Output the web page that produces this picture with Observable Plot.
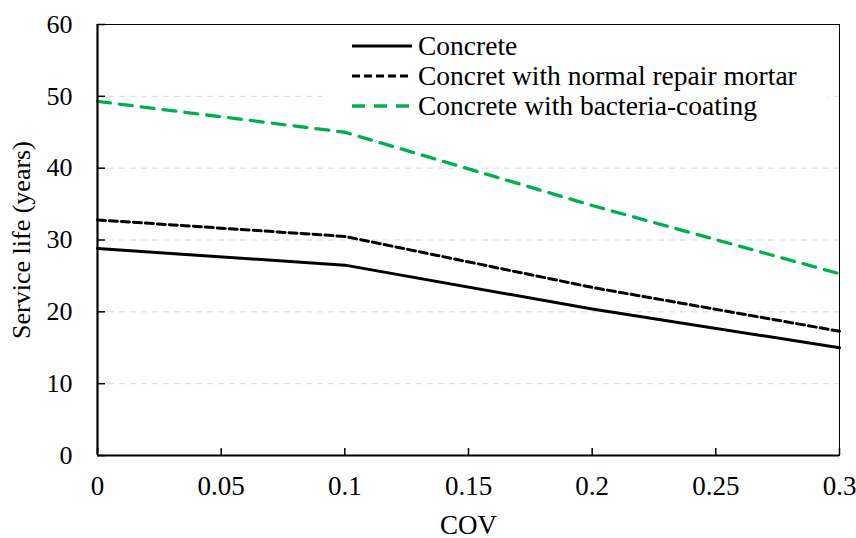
<!DOCTYPE html>
<html>
<head>
<meta charset="utf-8">
<script src="https://cdn.jsdelivr.net/npm/d3@7"></script>
<script src="https://cdn.jsdelivr.net/npm/@observablehq/plot@0.6"></script>
<style>
  body { margin: 0; background: #fff; }
  #wrap { position: relative; width: 856px; height: 538px; font-family: "Liberation Serif", "Times New Roman", serif; }
  #legend { position: absolute; left: 322px; top: 31px; width: 506px; background: #fff; font-size: 27.5px; color: #000; }
  #legend .row { display: flex; align-items: center; height: 30px; }
  #legend svg { margin-left: 30px; margin-right: 6px; }
</style>
</head>
<body>
<div id="wrap"></div>
<script>
const cov = [0, 0.1, 0.2, 0.3];
const concrete = [28.8, 26.5, 20.4, 15.0];
const repair = [32.8, 30.5, 23.4, 17.3];
const bacteria = [49.3, 45.0, 34.8, 25.3];
const xTicks = [0, 0.05, 0.1, 0.15, 0.2, 0.25, 0.3];
const yTicks = [0, 10, 20, 30, 40, 50, 60];
const gridTicks = [10, 20, 30, 40, 50];
const seriesNames = ["Concrete", "Concret with normal repair mortar", "Concrete with bacteria-coating"];

const rows = (vals) => cov.map((c, i) => ({cov: c, v: vals[i]}));
const styles = [
  {stroke: "#000000", dash: null, width: 3},
  {stroke: "#000000", dash: "8,4", width: 3},
  {stroke: "#00b050", dash: "13,9", width: 3.3}
];
const seriesVals = [concrete, repair, bacteria];

const fmtX = d => d === 0 ? "0" : String(d);

const chart = Plot.plot({
  width: 856,
  height: 538,
  marginLeft: 97,
  marginRight: 17,
  marginTop: 24,
  marginBottom: 83,
  style: {fontFamily: "'Liberation Serif', 'Times New Roman', serif", fontSize: "27px", color: "#000", background: "#fff"},
  x: {domain: [0, 0.3]},
  y: {domain: [0, 60]},
  marks: [
    Plot.gridY(gridTicks, {stroke: "#d9d9d9", strokeOpacity: 1, strokeDasharray: "6,5", strokeWidth: 1}),
    Plot.axisX(xTicks, {tickSize: -7, text: null, strokeWidth: 1.5, label: null}),
    Plot.axisX(xTicks, {tickSize: 0, tickPadding: 20, tickFormat: fmtX, fontSize: 27, label: "COV", labelAnchor: "center", labelOffset: 78, labelArrow: "none"}),
    Plot.axisY(yTicks, {tickSize: -8, text: null, strokeWidth: 1.5, label: null}),
    Plot.axisY(yTicks, {tickSize: 0, tickPadding: 25, fontSize: 26, label: "Service life (years)", labelAnchor: "center", labelOffset: 86, labelArrow: "none"}),
    Plot.frame({stroke: "#000", strokeWidth: 1}),
    ...seriesVals.map((vals, i) => Plot.line(rows(vals), {x: "cov", y: "v", stroke: styles[i].stroke, strokeWidth: styles[i].width, strokeDasharray: styles[i].dash})),
    Plot.ruleX([0], {stroke: "#000", strokeWidth: 2.2}),
    Plot.ruleY([0], {stroke: "#000", strokeWidth: 2.2})
  ]
});

const wrap = document.getElementById("wrap");
wrap.appendChild(chart);

const legend = document.createElement("div");
legend.id = "legend";
seriesNames.forEach((name, i) => {
  const row = document.createElement("div");
  row.className = "row";
  const s = styles[i];
  row.innerHTML = `<svg width="60" height="6"><line x1="0" y1="3" x2="60" y2="3" stroke="${s.stroke}" stroke-width="${s.width}" ${s.dash ? `stroke-dasharray="${s.dash}"` : ""}/></svg><span>${name}</span>`;
  legend.appendChild(row);
});
wrap.appendChild(legend);
</script>
</body>
</html>
